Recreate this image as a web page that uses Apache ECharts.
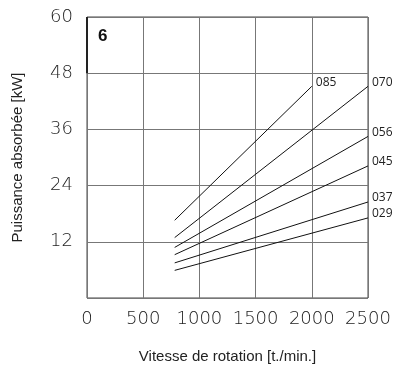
<!DOCTYPE html>
<html><head><meta charset="utf-8">
<script src="https://cdn.jsdelivr.net/npm/echarts@6/dist/echarts.min.js"></script>
<style>html,body{margin:0;padding:0;background:#fff}#c{width:395px;height:367px}</style>
</head><body><div id="c"></div>
<script>
const seriesNames = ['085', '070', '056', '045', '037', '029'];
const startSpeed = [780, 780, 780, 780, 780, 780];
const endSpeed = [2000, 2500, 2500, 2500, 2500, 2500];
const startPower = [16.6, 12.9, 10.8, 9.25, 7.5, 5.9];
const endPower = [45.2, 45.2, 34.5, 28.2, 20.5, 17.1];
const xTicks = [0, 500, 1000, 1500, 2000, 2500];
const yTicks = [0, 12, 24, 36, 48, 60];
const panelLabel = '6';

const tickFont = { fontFamily: 'DejaVu Sans', fontWeight: 200, fontSize: 18, color: '#222' };

const series = seriesNames.map((n, i) => ({
  name: n,
  type: 'line',
  data: [[startSpeed[i], startPower[i]], [endSpeed[i], endPower[i]]],
  symbol: 'none',
  silent: true,
  lineStyle: { color: '#111', width: 1 },
  endLabel: { show: true, formatter: n, distance: 4, fontFamily: 'Open Sans', fontSize: 12, color: '#222', offset: [0, -4] }
}));
series[0].markArea = {
  silent: true,
  itemStyle: { color: 'rgba(0,0,0,0)', borderWidth: 0 },
  label: { show: true, position: 'insideTopLeft', formatter: panelLabel, fontFamily: 'Liberation Sans', fontWeight: 'bold', fontSize: 17, color: '#111', offset: [6, 6] },
  data: [[{ xAxis: xTicks[0], yAxis: yTicks[4] }, { xAxis: xTicks[1], yAxis: yTicks[5] }]]
};
series[0].markLine = {
  silent: true, symbol: 'none', label: { show: false },
  lineStyle: { color: '#222', width: 2, type: 'solid' },
  data: [[{ coord: [xTicks[0], yTicks[4]] }, { coord: [xTicks[0], yTicks[5]] }]]
};

const chart = echarts.init(document.getElementById('c'), null, { renderer: 'canvas' });
chart.setOption({
  animation: false,
  grid: { left: 87, right: 27, top: 17, bottom: 69, outerBoundsMode: 'none', containLabel: false, show: true, borderColor: '#444', borderWidth: 1 },
  xAxis: {
    type: 'value', min: xTicks[0], max: xTicks[xTicks.length - 1], interval: 500,
    name: 'Vitesse de rotation [t./min.]', nameLocation: 'middle', nameGap: 51,
    nameTextStyle: { fontFamily: 'Liberation Sans', fontSize: 15, color: '#222' },
    axisLine: { show: false }, axisTick: { show: false },
    axisLabel: Object.assign({ margin: 12, formatter: v => String(v) }, tickFont),
    splitLine: { show: true, lineStyle: { color: '#777', width: 1 } }
  },
  yAxis: {
    type: 'value', min: yTicks[0], max: yTicks[yTicks.length - 1], interval: 12,
    name: 'Puissance absorbée [kW]', nameLocation: 'middle', nameGap: 62,
    nameTextStyle: { fontFamily: 'Liberation Sans', fontSize: 15, color: '#222' },
    axisLine: { show: false }, axisTick: { show: false },
    axisLabel: Object.assign({ margin: 14, formatter: v => v === 0 ? '' : String(v) }, tickFont),
    splitLine: { show: true, lineStyle: { color: '#777', width: 1 } }
  },
  series: series
});
</script></body></html>
